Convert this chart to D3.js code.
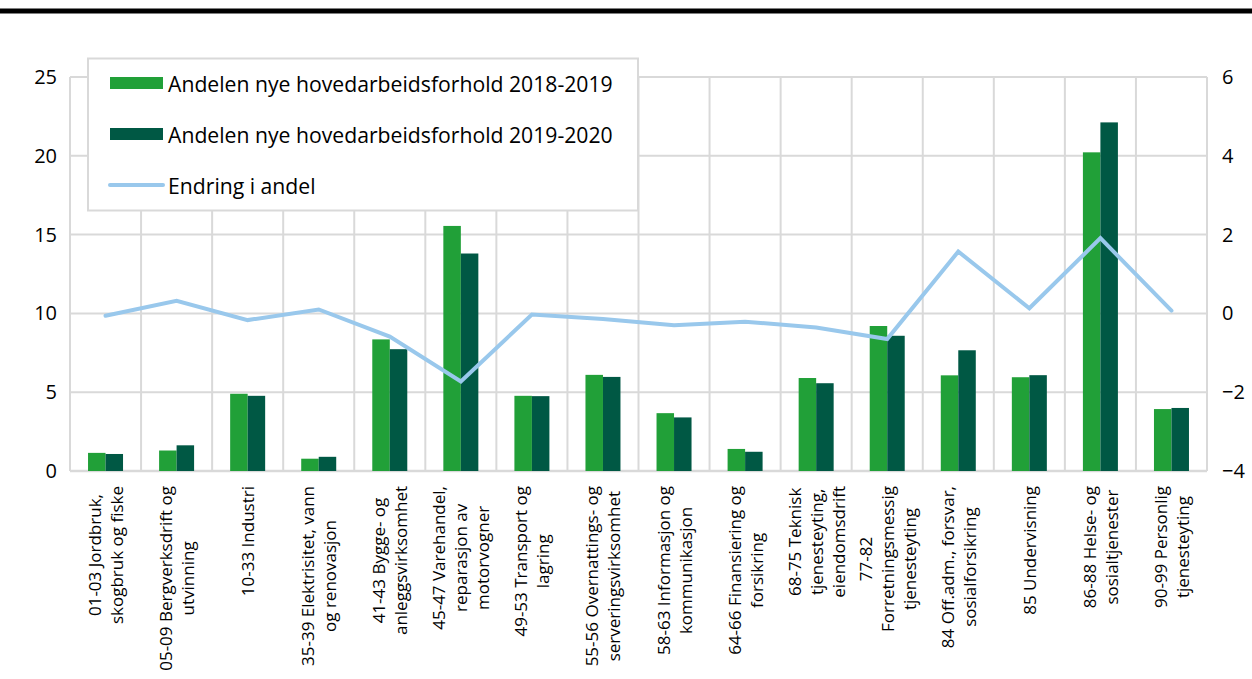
<!DOCTYPE html>
<html><head><meta charset="utf-8">
<script src="https://cdn.jsdelivr.net/npm/d3@7/dist/d3.min.js"></script>
<style>body{margin:0;background:#fff;} svg{display:block;font-family:"Open Sans",sans-serif;}</style>
</head><body>
<svg id="c" width="1252" height="679"></svg>
<script>
const categories = [
  ["01-03 Jordbruk,","skogbruk og fiske"],
  ["05-09 Bergverksdrift og","utvinning"],
  ["10-33 Industri"],
  ["35-39 Elektrisitet, vann","og renovasjon"],
  ["41-43 Bygge- og","anleggsvirksomhet"],
  ["45-47 Varehandel,","reparasjon av","motorvogner"],
  ["49-53 Transport og","lagring"],
  ["55-56 Overnattings- og","serveringsvirksomhet"],
  ["58-63 Informasjon og","kommunikasjon"],
  ["64-66 Finansiering og","forsikring"],
  ["68-75 Teknisk","tjenesteyting,","eiendomsdrift"],
  ["77-82","Forretningsmessig","tjenesteyting"],
  ["84 Off.adm., forsvar,","sosialforsikring"],
  ["85 Undervisning"],
  ["86-88 Helse- og","sosialtjenester"],
  ["90-99 Personlig","tjenesteyting"]
];
const share1819 = [1.15, 1.3, 4.9, 0.78, 8.35, 15.55, 4.77, 6.1, 3.67, 1.4, 5.9, 9.2, 6.07, 5.95, 20.22, 3.93];
const share1920 = [1.08, 1.63, 4.77, 0.9, 7.73, 13.8, 4.75, 5.97, 3.4, 1.22, 5.57, 8.58, 7.66, 6.08, 22.12, 4.0];
const change = [-0.06, 0.32, -0.17, 0.1, -0.59, -1.73, -0.03, -0.14, -0.3, -0.21, -0.36, -0.65, 1.57, 0.13, 1.91, 0.07];
const leftTicks = [0, 5, 10, 15, 20, 25];
const rightTicks = [-4, -2, 0, 2, 4, 6];
const seriesNames = ["Andelen nye hovedarbeidsforhold 2018-2019","Andelen nye hovedarbeidsforhold 2019-2020","Endring i andel"];

const C1 = "#21a038", C2 = "#005844", CL = "#99c8ec", GRID = "#d9d9d9";
const svg = d3.select("#c");
const X0 = 70, X1 = 1207, Y0 = 471, Y1 = 77;

// title rule
svg.append("rect").attr("x",0).attr("y",8.5).attr("width",1252).attr("height",5).attr("fill","#000");

const x = d3.scaleBand().domain(d3.range(categories.length)).range([X0, X1]).padding(0);
const yL = d3.scaleLinear().domain([0,25]).range([Y0, Y1]);
const yR = d3.scaleLinear().domain([-4,6]).range([Y0, Y1]);

const g = svg.append("g");
g.selectAll("line.h").data(leftTicks).join("line")
  .attr("x1",X0).attr("x2",X1).attr("y1",d=>yL(d)).attr("y2",d=>yL(d))
  .attr("stroke",GRID).attr("stroke-width",d=>d===0?2.5:2);
g.selectAll("line.v").data(d3.range(categories.length+1)).join("line")
  .attr("x1",d=>X0+d*x.bandwidth()).attr("x2",d=>X0+d*x.bandwidth())
  .attr("y1",Y1).attr("y2",Y0).attr("stroke",GRID).attr("stroke-width",2);

const fs = 20;
svg.append("g").attr("transform",`translate(${X0-13},0)`)
  .call(d3.axisLeft(yL).tickValues(leftTicks).tickSize(0).tickPadding(0))
  .call(a=>{a.select(".domain").remove(); a.selectAll("text").attr("font-size",fs).attr("fill","#000").attr("font-family","Open Sans");});
svg.append("g").attr("transform",`translate(${X1+15},0)`)
  .call(d3.axisRight(yR).tickValues(rightTicks).tickSize(0).tickPadding(0))
  .call(a=>{a.select(".domain").remove(); a.selectAll("text").attr("font-size",fs).attr("fill","#000").attr("font-family","Open Sans");});

const bw = 17.5;
const bars = svg.append("g");
bars.selectAll("rect.a").data(share1819).join("rect")
  .attr("x",(d,i)=>x(i)+x.bandwidth()/2-bw).attr("width",bw)
  .attr("y",d=>yL(d)).attr("height",d=>yL(0)-yL(d)).attr("fill",C1);
bars.selectAll("rect.b").data(share1920).join("rect")
  .attr("x",(d,i)=>x(i)+x.bandwidth()/2).attr("width",bw)
  .attr("y",d=>yL(d)).attr("height",d=>yL(0)-yL(d)).attr("fill",C2);

const line = d3.line().x((d,i)=>x(i)+x.bandwidth()/2).y(d=>yR(d));
svg.append("path").datum(change).attr("d",line).attr("fill","none")
  .attr("stroke",CL).attr("stroke-width",4).attr("stroke-linejoin","miter").attr("stroke-linecap","round");

const xl = svg.append("g");
const lfs = 17, lh = 22, topY = 486;
categories.forEach((lines,i)=>{
  const cx = x(i)+x.bandwidth()/2;
  const grp = xl.append("g");
  const texts = lines.map((t,j)=>grp.append("text").text(t).attr("font-size",lfs).attr("fill","#000")
      .attr("text-anchor","middle").attr("dominant-baseline","central"));
  const maxLen = d3.max(texts,t=>t.node().getComputedTextLength());
  const n = lines.length;
  texts.forEach((t,j)=>{
    const px = cx + (j-(n-1)/2)*lh;
    const py = topY + maxLen/2;
    t.attr("transform",`translate(${px},${py}) rotate(-90)`);
  });
});

const lg = svg.append("g");
lg.append("rect").attr("x",88).attr("y",58.5).attr("width",550).attr("height",152)
  .attr("fill","#fff").attr("stroke",GRID).attr("stroke-width",2);
const rows = [83,134,185];
[C1,C2].forEach((c,i)=>{
  lg.append("rect").attr("x",110).attr("y",rows[i]-6).attr("width",53).attr("height",12).attr("fill",c);
});
lg.append("line").attr("x1",110).attr("x2",163).attr("y1",rows[2]).attr("y2",rows[2])
  .attr("stroke",CL).attr("stroke-width",4).attr("stroke-linecap","round");
seriesNames.forEach((s,i)=>{
  lg.append("text").attr("x",168).attr("y",rows[i]).attr("dominant-baseline","central")
    .attr("font-size",21.2).attr("fill","#000").text(s);
});
</script>
</body></html>
